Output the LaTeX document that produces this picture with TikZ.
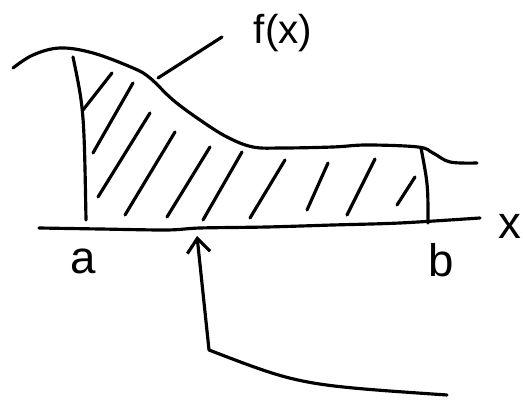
\documentclass[tikz,border=0pt]{standalone}
\usepackage{fontspec}
\setmainfont{Liberation Sans}
\usetikzlibrary{arrows.meta}

\begin{document}
\begin{tikzpicture}[x=0.02cm, y=-0.02cm, line width=1.8pt, line cap=round, line join=round,
    pen/.style={black},
    lbl/.style={inner sep=0pt, font=\fontsize{26}{30}\selectfont}]
        \useasboundingbox (0,0) rectangle (523,404);

        % 1. The curve f(x)
        \draw[pen] plot[smooth, tension=0.6] coordinates {(13,68) (33,55) (60,48) (93,53) (133,68) (150,78)
            (173,100) (200,120) (227,137) (253,147) (283,148) (333,147) (367,145) (418,147)
            (433,153) (450,162) (477,163)};
        \coordinate (touch) at (158,78);
        \node[lbl, font=\fontsize{23}{27}\selectfont] (fx) at (283,33) {f(x)};
        \draw[pen] (touch) -- (222,37);

        % 2. Limits a and b
        \draw[pen] (73,57) .. controls (84,110) .. (86,220);
        \draw[pen] (421,148) .. controls (428,185) .. (428,223);

        % 3. x axis
        \draw[pen] plot[smooth] coordinates {(39,228) (100,229) (167,230) (200,228) (267,227) (333,225) (400,223) (480,218)};
        \node[lbl] (xl) at (510,226) {x};
        \node[lbl] (al) at (83,261) {a};
        \node[lbl] (bl) at (441,260) {b};

        % 4. Hatching under the curve
        \foreach \xa/\ya/\xb/\yb in {83/110/112/73, 93/153/133/83, 98/197/150/113, 125/215/175/132,
            167/217/210/147, 203/220/242/152, 250/218/285/160, 307/210/328/163,
            347/215/375/159, 397/205/415/177}
            \draw[pen] (\xa,\ya) -- (\xb,\yb);

        % 5. Pointer up to the axis
        \coordinate (tip) at (197,236);
        \coordinate (knee) at (209,350);
        \coordinate (tail) at (447,395);
        \draw[pen, -{Straight Barb[length=8pt, width=13pt]}] (knee) -- (tip);
        \draw[pen] (knee) .. controls (300,385) .. (tail);

    \end{tikzpicture}
\end{document}
